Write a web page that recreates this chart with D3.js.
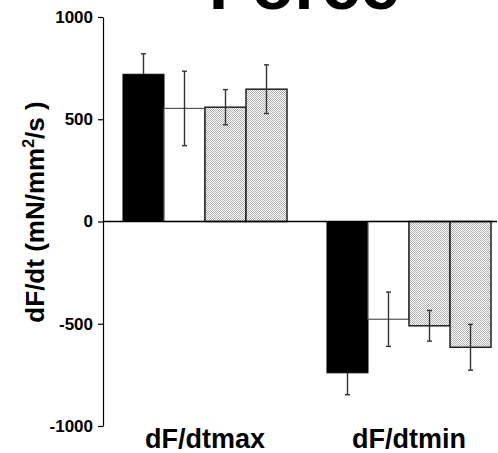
<!DOCTYPE html>
<html><head><meta charset="utf-8">
<script src="https://cdn.jsdelivr.net/npm/d3@7"></script>
<style>body{margin:0;background:#fff}svg{display:block}text{font-family:"Liberation Sans",Arial,sans-serif;font-weight:bold}</style>
</head><body>
<script>
const categories = ["dF/dtmax", "dF/dtmin"];
const seriesNames = ["s1", "s2", "s3", "s4"];
const s1Values = [720, -740];
const s1Errors = [100, 107];
const s2Values = [553, -478];
const s2Errors = [182, 133];
const s3Values = [559, -510];
const s3Errors = [86, 75];
const s4Values = [647, -615];
const s4Errors = [119, 112];
const yTicks = [-1000, -500, 0, 500, 1000];
const titleText = "Force";

const W = 498, H = 453;
const svg = d3.select("body").append("svg").attr("width", W).attr("height", H);

const defs = svg.append("defs");
const pat = defs.append("pattern").attr("id", "stip").attr("patternUnits", "userSpaceOnUse")
  .attr("width", 2).attr("height", 2);
pat.append("rect").attr("width", 2).attr("height", 2).attr("fill", "#fff");
pat.append("rect").attr("x", 0).attr("y", 0).attr("width", 1).attr("height", 1).attr("fill", "#b0b0b0");
pat.append("rect").attr("x", 1).attr("y", 1).attr("width", 1).attr("height", 1).attr("fill", "#b0b0b0");

const y = d3.scaleLinear().domain([-1000, 1000]).range([426, 17]);
const x0 = d3.scaleBand().domain(categories).range([103, 511]).paddingInner(0.196).paddingOuter(0.098);
const x1 = d3.scaleBand().domain(seriesNames).range([0, x0.bandwidth()]);

const series = [
  {name: "s1", values: s1Values, errors: s1Errors, fill: "#000", stroke: "#000", sw: 1, outwardOnly: true},
  {name: "s2", values: s2Values, errors: s2Errors, fill: "#fff", stroke: "#555", sw: 1.2},
  {name: "s3", values: s3Values, errors: s3Errors, fill: "url(#stip)", stroke: "#222", sw: 1.5},
  {name: "s4", values: s4Values, errors: s4Errors, fill: "url(#stip)", stroke: "#222", sw: 1.5}
];

// bars
series.forEach(s => {
  categories.forEach((c, i) => {
    const v = s.values[i];
    const bx = x0(c) + x1(s.name);
    svg.append("rect")
      .attr("x", bx).attr("width", x1.bandwidth())
      .attr("y", Math.min(y(v), y(0))).attr("height", Math.abs(y(v) - y(0)))
      .attr("fill", s.fill).attr("stroke", s.stroke).attr("stroke-width", s.sw);
  });
});

// error bars
series.forEach(s => {
  categories.forEach((c, i) => {
    const v = s.values[i], e = s.errors[i];
    const sign = v >= 0 ? 1 : -1;
    const cx = x0(c) + x1(s.name) + x1.bandwidth() / 2;
    const g = svg.append("g").attr("stroke", "#333").attr("stroke-width", 1.4);
    const lo = s.outwardOnly ? v : v - e;
    const hi = s.outwardOnly ? v + sign * e : v + e;
    const ends = s.outwardOnly ? [v + sign * e] : [v - e, v + e];
    g.append("line").attr("x1", cx).attr("x2", cx).attr("y1", y(lo)).attr("y2", y(hi));
    ends.forEach(t => {
      g.append("line").attr("x1", cx - 2.5).attr("x2", cx + 2.5).attr("y1", y(t)).attr("y2", y(t));
    });
  });
});

// zero line
svg.append("line").attr("x1", 103).attr("x2", 497).attr("y1", y(0)).attr("y2", y(0))
  .attr("stroke", "#000").attr("stroke-width", 1.5);

// y axis
const ax = svg.append("g").attr("transform", "translate(103,0)")
  .call(d3.axisLeft(y).tickValues(yTicks).tickFormat(d => String(d)).tickSize(5).tickSizeOuter(0).tickPadding(5));
ax.selectAll("path,line").attr("stroke", "#000").attr("stroke-width", 1.2);
ax.selectAll("text").attr("font-size", 17).attr("font-family", "Liberation Sans, Arial, sans-serif")
  .attr("font-weight", "bold").attr("fill", "#000");

// y label
const yl = svg.append("text").attr("transform", "translate(44,212) rotate(-90)")
  .attr("text-anchor", "middle").attr("font-size", 26).attr("fill", "#000");
yl.append("tspan").text("dF/dt (mN/mm");
yl.append("tspan").attr("font-size", 16).attr("dy", -10).text("2");
yl.append("tspan").attr("dy", 10).text("/s )");

// category labels
svg.selectAll(".cat").data(categories).enter().append("text")
  .attr("x", d => x0(d) + x0.bandwidth() / 2).attr("y", 448)
  .attr("text-anchor", "middle").attr("font-size", 27).attr("fill", "#000").text(d => d);

// title
svg.append("text").attr("x", 304).attr("y", 9).attr("text-anchor", "middle")
  .attr("font-size", 70).attr("fill", "#000").text(titleText);
</script>
</body></html>
